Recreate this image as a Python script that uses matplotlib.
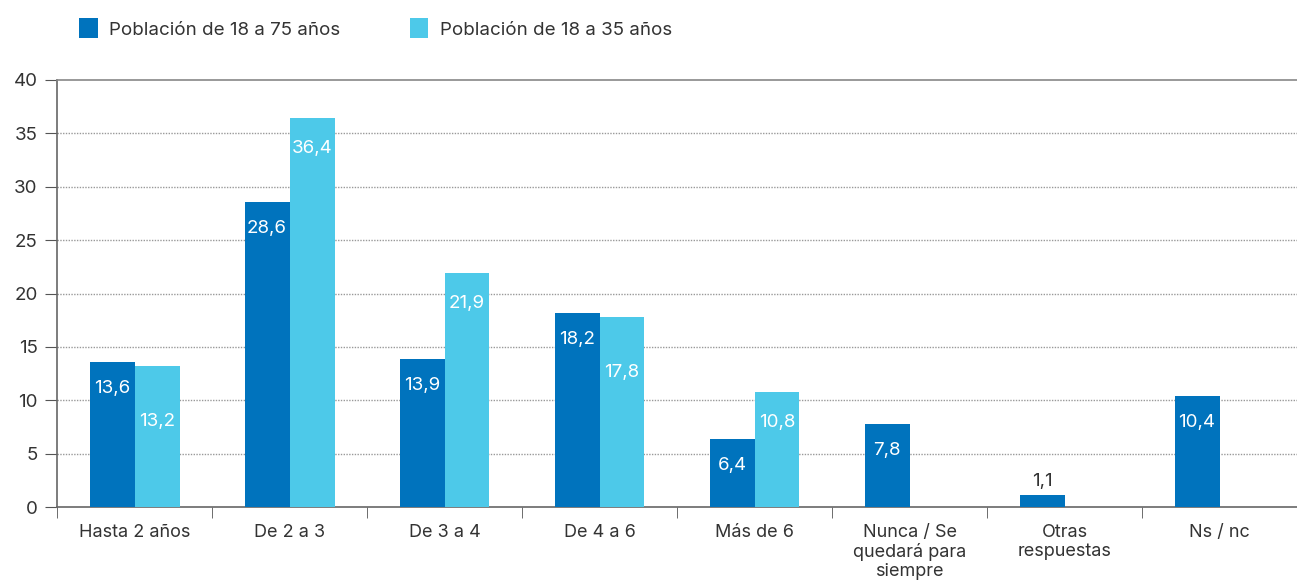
import matplotlib.pyplot as plt
import numpy as np

plt.rcParams['font.family'] = ['Inter', 'DejaVu Sans']

# data
categories = ['Hasta 2 años', 'De 2 a 3', 'De 3 a 4', 'De 4 a 6', 'Más de 6',
              'Nunca / Se\nquedará para\nsiempre', 'Otras\nrespuestas', 'Ns / nc']
pop_18_75 = [13.6, 28.6, 13.9, 18.2, 6.4, 7.8, 1.1, 10.4]
pop_18_35 = [13.2, 36.4, 21.9, 17.8, 10.8, None, None, None]
series_names = ['Población de 18 a 75 años', 'Población de 18 a 35 años']

dark = '#0073BD'
light = '#4DC9E9'
textc = '#333333'

fig = plt.figure(figsize=(12.97, 5.83), dpi=100)
ax = fig.add_axes([0.044, 0.130, 0.956, 0.733])

x = np.arange(len(categories))
w = 0.29

ax.bar(x - w / 2, pop_18_75, width=w, color=dark, zorder=3, label=series_names[0])
lx = [i + w / 2 for i, v in enumerate(pop_18_35) if v is not None]
lv = [v for v in pop_18_35 if v is not None]
ax.bar(lx, lv, width=w, color=light, zorder=3, label=series_names[1])

def fmt(v):
    return f'{v:.1f}'.replace('.', ',')

for i, v in enumerate(pop_18_75):
    if v < 3:
        ax.annotate(fmt(v), (i - w / 2, v), xytext=(0, 4), textcoords='offset points',
                    ha='center', va='bottom', color=textc, fontsize=13.5, zorder=4)
    else:
        ax.annotate(fmt(v), (i - w / 2, v), xytext=(0, -19), textcoords='offset points',
                    ha='center', va='center', color='white', fontsize=13.5, zorder=4)
for i, v in enumerate(pop_18_35):
    if v is None:
        continue
    off = -40 if abs(v - pop_18_75[i]) < 2 else -22
    ax.annotate(fmt(v), (i + w / 2, v), xytext=(0, off), textcoords='offset points',
                ha='center', va='center', color='white', fontsize=13.5, zorder=4)

ax.set_xlim(-0.5, len(categories) - 0.5)
ax.set_ylim(0, 40)
ax.set_yticks(range(0, 41, 5))
ax.tick_params(axis='y', length=9, color='#555555', labelcolor=textc, labelsize=13.5, pad=5)
ax.set_xticks(x)
ax.set_xticklabels(categories, fontsize=13, color=textc, linespacing=1.15)
ax.tick_params(axis='x', which='major', length=0, pad=12)
ax.set_xticks(np.arange(-0.5, len(categories)), minor=True)
ax.tick_params(axis='x', which='minor', length=8, color='#555555')

for yv in range(5, 40, 5):
    ax.axhline(yv, color='#999999', lw=1, ls=(0, (1, 1)), zorder=1)

for s in ['left', 'bottom', 'top']:
    ax.spines[s].set_color('#666666')
    ax.spines[s].set_linewidth(1.2)
ax.spines['right'].set_visible(False)
ax.spines['top'].set_color('#888888')

fig.legend(loc='upper left', bbox_to_anchor=(0.048, 0.998), ncol=2, frameon=False,
           fontsize=13.5, handlelength=1.0, handleheight=1.3, columnspacing=3.7,
           labelcolor=textc, handletextpad=0.6)

plt.savefig('out.png', dpi=100)
